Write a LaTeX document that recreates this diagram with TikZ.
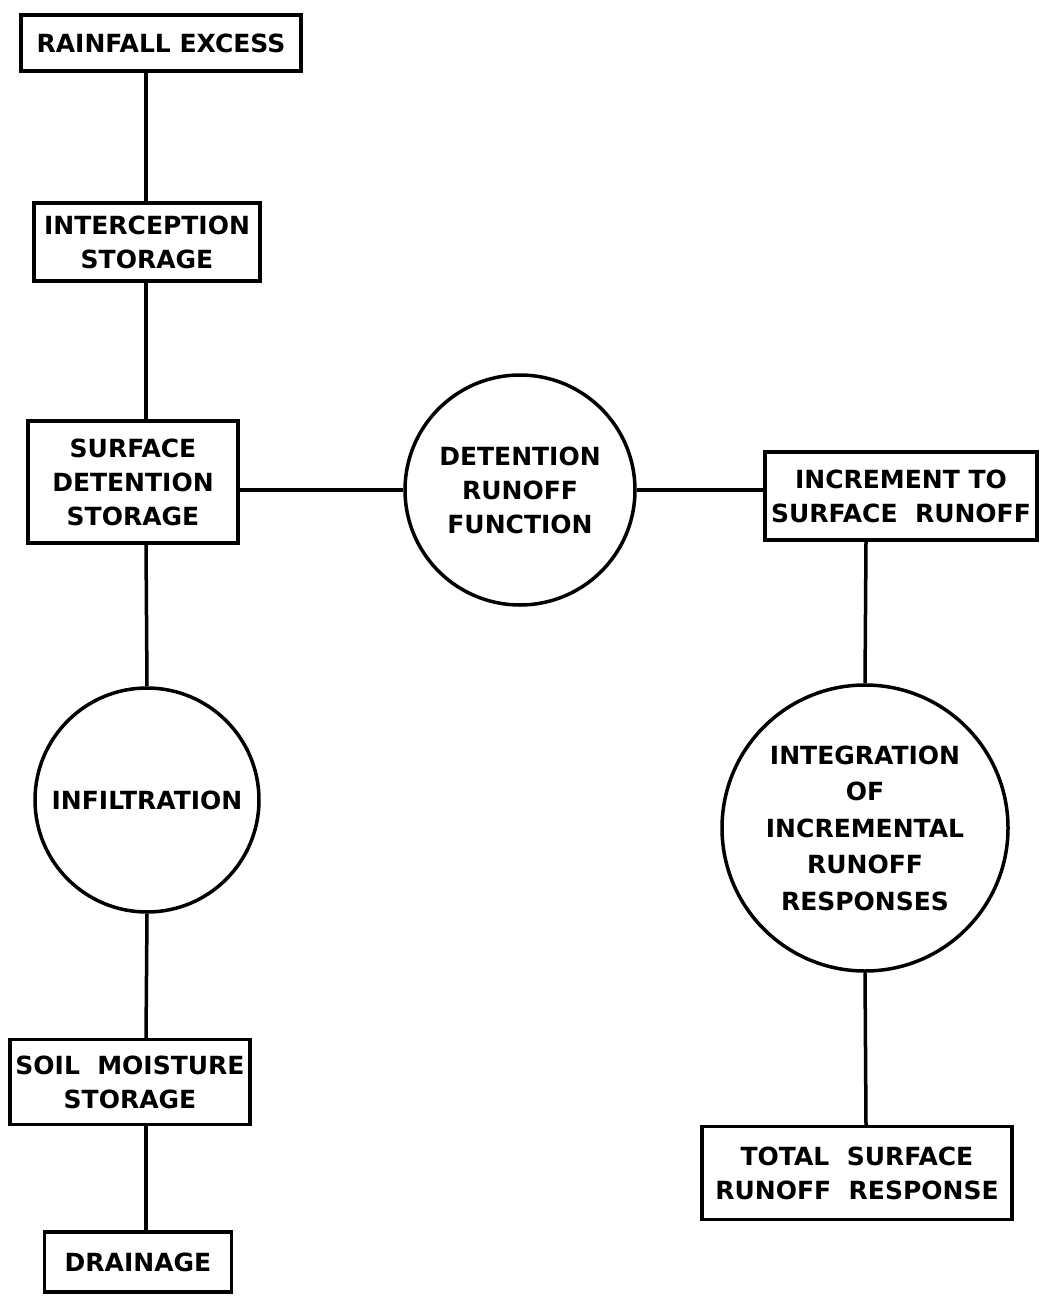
\documentclass[tikz,border=0pt]{standalone}
\usepackage{fontspec}
\setmainfont{DejaVu Sans}
\begin{document}
\begin{tikzpicture}[x=1pt,y=-1pt,
  lbl/.style={font=\bfseries\fontsize{25}{34}\selectfont, align=center},
  box/.style={draw, line width=3.5pt, inner sep=0pt, lbl},
  circ/.style={draw, circle, line width=3.5pt, inner sep=0pt, lbl},
  conn/.style={line width=3.5pt}]
\useasboundingbox[fill=white] (0,0) rectangle (1040,1308);
\coordinate (colL) at (146,0);
\coordinate (colR) at (866,0);
% left column
\node[box, minimum width=280pt, minimum height=56pt] (rain) at (161,43) {RAINFALL EXCESS};
\node[box, minimum width=226pt, minimum height=78pt] (inter) at (147,242) {INTERCEPTION\\STORAGE};
\node[box, minimum width=210pt, minimum height=122pt] (surf) at (133,482) {SURFACE\\DETENTION\\STORAGE};
\node[circ, minimum size=224pt] (infil) at (147,800) {INFILTRATION};
\node[box, minimum width=240pt, minimum height=85pt] (soil) at (130,1082) {SOIL\ \ MOISTURE\\STORAGE};
\node[box, minimum width=187pt, minimum height=60pt] (drain) at (138,1262) {DRAINAGE};
% middle and right
\node[circ, minimum size=230pt] (drf) at (520,490) {DETENTION\\RUNOFF\\FUNCTION};
\node[box, minimum width=272pt, minimum height=88pt] (incr) at (901,496) {INCREMENT TO\\SURFACE\ \ RUNOFF};
\node[circ, minimum size=286pt, font=\bfseries\fontsize{25}{36.5}\selectfont] (integ) at (865,828) {INTEGRATION\\OF\\INCREMENTAL\\RUNOFF\\RESPONSES};
\node[box, minimum width=310pt, minimum height=93pt] (total) at (857,1173) {TOTAL\ \ SURFACE\\RUNOFF\ \ RESPONSE};
% connectors
\draw[conn] (rain.south -| colL) -- (inter.north -| colL);
\draw[conn] (inter.south -| colL) -- (surf.north -| colL);
\draw[conn] (surf.south -| colL) -- (infil.north);
\draw[conn] (infil.south) -- (soil.north -| colL);
\draw[conn] (soil.south -| colL) -- (drain.north -| colL);
\draw[conn] (drf.west -| surf.east) -- (drf.west);
\draw[conn] (drf.east) -- (drf.east -| incr.west);
\draw[conn] (incr.south -| colR) -- (integ.north);
\draw[conn] (integ.south) -- (total.north -| colR);
\end{tikzpicture}
\end{document}
